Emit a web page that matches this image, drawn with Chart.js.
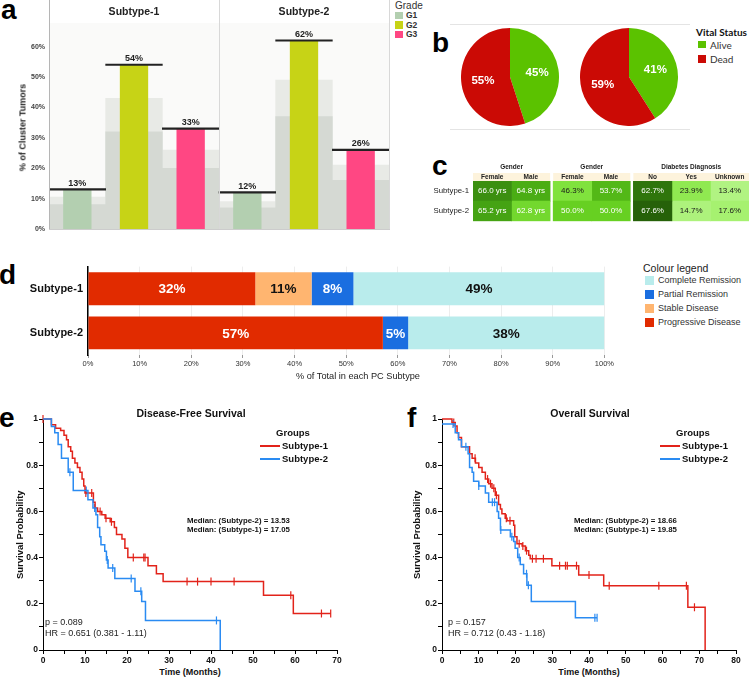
<!DOCTYPE html>
<html>
<head>
<meta charset="utf-8">
<script src="https://cdn.jsdelivr.net/npm/chart.js@4.4.1/dist/chart.umd.min.js"></script>
<style>
body { margin: 0; background: #fff; font-family: "Liberation Sans", Arial, sans-serif; }
#fig { position: relative; width: 749px; height: 679px; overflow: hidden; background: #fff; }
canvas { position: absolute; }
.t { position: absolute; white-space: nowrap; color: #222; }
.sw { position: absolute; }
</style>
</head>
<body>
<div id="fig"></div>
<script>
// ---- panel a: tumour grade per subtype ----
const subtypes = ['Subtype-1', 'Subtype-2'];
const gradeLabels = ['G1', 'G2', 'G3'];
const gradePct = [[13, 54, 33], [12, 62, 26]];
const greyLow = [[8, 32, 20], [7, 37, 16]];
const greyHigh = [[10.5, 43, 26], [9, 49, 21]];

// ---- panel b: vital status ----
const vitalLabels = ['Alive', 'Dead'];
const vitalPct = [[45, 55], [41, 59]];

// ---- panel c: table ----
const cGroups = ['Gender', 'Gender', 'Diabetes Diagnosis'];
const cCols = [['Female', 'Male'], ['Female', 'Male'], ['No', 'Yes', 'Unknown']];
const cUnits = [' yrs', '%', '%'];
const cSub1 = [[66.0, 64.8], [46.3, 53.7], [62.7, 23.9, 13.4]];
const cSub2 = [[65.2, 62.8], [50.0, 50.0], [67.6, 14.7, 17.6]];

// ---- panel d: response ----
const responseLabels = ['Progressive Disease', 'Stable Disease', 'Partial Remission', 'Complete Remission'];
const responseSub1 = [32.4, 10.9, 8.1, 48.6];
const responseSub2 = [57.1, 0, 4.9, 38.0];

// ---- panel e: disease-free survival (months, probability) ----
const dfsSub1 = [[0,1],[2.0,0.975],[3.0,0.96],[4.2,0.95],[5.0,0.93],[5.6,0.91],[6.0,0.88],[6.6,0.86],[7.0,0.83],[7.6,0.81],[8.2,0.79],[8.8,0.77],[9.3,0.74],[9.7,0.71],[10.0,0.68],[12.0,0.64],[12.4,0.615],[13.0,0.60],[14.0,0.585],[14.8,0.57],[16.0,0.555],[17.0,0.53],[17.5,0.50],[18.8,0.48],[19.5,0.44],[20.2,0.40],[25.0,0.365],[27.0,0.33],[28.6,0.296],[52.5,0.237],[59.6,0.158],[68.5,0.158]];
const dfsCens1 = [0, 10.2, 11.6, 13.6, 15.0, 16.3, 21.5, 24.0, 24.3, 34.3, 36.8, 40.0, 45.5, 59.0, 66.3, 68.5];
const dfsSub2 = [[0,1],[2.0,0.968],[2.8,0.94],[3.6,0.89],[4.4,0.83],[6.0,0.77],[7.2,0.69],[10.7,0.65],[11.9,0.615],[12.6,0.585],[13.0,0.53],[13.5,0.49],[13.8,0.456],[14.7,0.427],[15.1,0.39],[15.5,0.355],[17.1,0.309],[21.9,0.254],[23.5,0.21],[24.4,0.128],[42.2,0]];
const dfsCens2 = [6.4, 10.3, 12.3, 15.3, 16.6, 21.0, 23.3, 41.3];

// ---- panel f: overall survival ----
const osSub1 = [[0,1],[2.7,0.985],[3.6,0.97],[4.1,0.94],[4.5,0.92],[5.3,0.88],[7.5,0.85],[8.2,0.83],[9.1,0.81],[10.0,0.79],[10.9,0.77],[11.8,0.74],[12.7,0.72],[13.6,0.70],[14.5,0.67],[15.4,0.63],[15.9,0.61],[16.3,0.59],[17.2,0.57],[17.7,0.56],[19.5,0.54],[19.8,0.49],[20.4,0.46],[21.8,0.45],[22.7,0.43],[23.6,0.41],[24.0,0.395],[29.9,0.365],[37.2,0.325],[44.0,0.278],[66.9,0.185],[71.6,0]];
const osCens1 = [3.2, 9.0, 12.4, 13.2, 14.1, 14.8, 17.5, 18.5, 21.0, 22.0, 23.0, 24.6, 25.6, 27.6, 32.0, 33.6, 34.1, 36.6, 40.0, 45.5, 59.0, 66.5, 68.7];
const osSub2 = [[0,0.978],[3.6,0.94],[4.5,0.91],[5.3,0.88],[7.1,0.85],[7.5,0.79],[8.2,0.77],[8.6,0.73],[10.0,0.71],[11.8,0.68],[12.7,0.64],[15.0,0.60],[15.4,0.57],[15.9,0.52],[18.6,0.49],[19.5,0.47],[19.9,0.44],[20.6,0.40],[21.3,0.37],[22.2,0.33],[23.1,0.28],[24.3,0.21],[36.3,0.14],[42.2,0.14]];
const osCens2 = [3.0, 6.5, 10.0, 13.7, 14.3, 16.0, 19.0, 21.0, 23.0, 23.5, 41.6, 42.2];

const FONT = '"Liberation Sans", Arial, sans-serif';
Chart.defaults.font.family = FONT;
Chart.defaults.animation = false;
Chart.defaults.events = [];
Chart.defaults.plugins.legend.display = false;
Chart.defaults.plugins.tooltip.enabled = false;

const fig = document.getElementById('fig');

function txt(s, x, cy, size, o = {}) {
    const d = document.createElement('div');
    d.className = 't';
    d.textContent = s;
    d.style.fontSize = size + 'px';
    d.style.lineHeight = size + 'px';
    d.style.left = x + 'px';
    d.style.top = (cy - size / 2) + 'px';
    if (o.bold) d.style.fontWeight = 'bold';
    if (o.color) d.style.color = o.color;
    if (o.family) d.style.fontFamily = o.family;
    let tf = '';
    if (o.align === 'center') tf += 'translateX(-50%) ';
    if (o.align === 'right') tf += 'translateX(-100%) ';
    if (o.rotate) tf += 'rotate(' + o.rotate + 'deg)';
    d.style.transform = tf;
    fig.appendChild(d);
}

function box(x, y, w, h, color) {
    const d = document.createElement('div');
    d.className = 'sw';
    d.style.left = x + 'px'; d.style.top = y + 'px';
    d.style.width = w + 'px'; d.style.height = h + 'px';
    d.style.background = color;
    fig.appendChild(d);
}

function makeCanvas(left, top, w, h) {
    const c = document.createElement('canvas');
    c.width = w; c.height = h;
    c.style.left = left + 'px'; c.style.top = top + 'px';
    c.style.width = w + 'px'; c.style.height = h + 'px';
    fig.appendChild(c);
    return c.getContext('2d');
}

// panel letters
function letter(s, x, baseline) { txt(s, x, baseline - 23.7 + 14, 28, { bold: true, color: '#000' }); }
letter('a', 1, 20);
letter('b', 432, 53);
letter('c', 432, 176);
letter('d', -1, 285);
letter('e', -1, 428);
letter('f', 407, 428);

// ================= panel a =================
const gradeColors = ['#b3cfb0', '#c7d316', '#ff4783'];
const flatGrade = gradePct.flat();
const flatLow = greyLow.flat();
const flatHigh = greyHigh.flat();

const facetPlugin = {
    id: 'facets',
    beforeDraw(chart) {
        const { ctx, chartArea: a } = chart;
        ctx.save();
        ctx.fillStyle = '#fafaf9';
        ctx.fillRect(a.left, a.top, a.right - a.left, a.bottom - a.top);
        ctx.restore();
    },
    afterDatasetsDraw(chart) {
        const { ctx, chartArea: a, scales: { x, y } } = chart;
        const edges = [a.left, (x.getPixelForValue(2) + x.getPixelForValue(3)) / 2, a.right];
        ctx.save();
        ctx.lineWidth = 1;
        edges.forEach((e, i) => {
            ctx.strokeStyle = i === 0 ? '#b5b5b5' : '#d8d8d8';
            ctx.beginPath();
            ctx.moveTo(Math.round(e) + 0.5, 0);
            ctx.lineTo(Math.round(e) + 0.5, a.bottom);
            ctx.stroke();
        });
        ctx.fillStyle = '#222';
        ctx.textAlign = 'center';
        ctx.textBaseline = 'middle';
        ctx.font = 'bold 10.5px ' + FONT;
        subtypes.forEach((s, i) => ctx.fillText(s, (edges[i] + edges[i + 1]) / 2, 12));
        ctx.font = 'bold 9px ' + FONT;
        chart.getDatasetMeta(2).data.forEach((bar, i) => {
            ctx.fillText(flatGrade[i] + '%', bar.x, y.getPixelForValue(flatGrade[i]) - 6);
        });
        ctx.restore();
    }
};

new Chart(makeCanvas(0, 0, 392, 240), {
    type: 'bar',
    data: {
        labels: subtypes.flatMap(s => gradeLabels.map(g => s + ' ' + g)),
        datasets: [
            { data: flatHigh, backgroundColor: '#e8eae6', grouped: false, barPercentage: 1, categoryPercentage: 1, order: 4 },
            { data: flatLow, backgroundColor: '#d5d9d3', grouped: false, barPercentage: 1, categoryPercentage: 1, order: 3 },
            { data: flatGrade, backgroundColor: flatGrade.map((v, i) => gradeColors[i % 3]), grouped: false, barPercentage: 0.5, categoryPercentage: 1, order: 2 },
            { data: flatGrade.map(v => [v - 0.2, v + 0.3]), backgroundColor: '#222', grouped: false, barPercentage: 1, categoryPercentage: 1, order: 1 }
        ]
    },
    options: {
        responsive: false,
        devicePixelRatio: 1,
        layout: { padding: { top: 23, right: 3, left: 0, bottom: 0 } },
        scales: {
            x: {
                ticks: { display: false },
                grid: { display: false, drawTicks: false },
                border: { color: '#cccccc' },
                afterFit: s => { s.height = 11; }
            },
            y: {
                min: 0, max: 67.8,
                ticks: {
                    stepSize: 10,
                    callback: v => (v % 10 === 0 ? v + '%' : ''),
                    font: { size: 7, weight: 'bold' },
                    color: '#444',
                    padding: 4
                },
                grid: { display: false, drawTicks: false },
                border: { display: false },
                afterFit: s => { s.width = 49; }
            }
        }
    },
    plugins: [facetPlugin]
});

txt('% of Cluster Tumors', 23, 127, 9, { bold: true, align: 'center', rotate: -90 });
txt('Grade', 395, 6, 10, { color: '#333' });
gradeLabels.forEach((g, i) => {
    const cy = [15.5, 25, 34.5][i];
    box(395, cy - 3.7, 7.5, 7.5, gradeColors[i]);
    txt(g, 406, cy, 8.5, { bold: true, color: '#333' });
});

// ================= panel b =================
const vitalColors = ['#5bc200', '#cb0a05'];
const pieLabels = {
    id: 'pieLabels',
    afterDatasetsDraw(chart) {
        const { ctx } = chart;
        const vals = chart.data.datasets[0].data;
        ctx.save();
        ctx.fillStyle = '#fff';
        ctx.font = 'bold 11.5px ' + FONT;
        ctx.textAlign = 'center';
        ctx.textBaseline = 'middle';
        chart.getDatasetMeta(0).data.forEach((arc, i) => {
            const p = arc.getProps(['x', 'y', 'startAngle', 'endAngle', 'outerRadius']);
            const m = (p.startAngle + p.endAngle) / 2;
            const r = p.outerRadius * 0.56;
            ctx.fillText(vals[i] + '%', p.x + Math.cos(m) * r, p.y + Math.sin(m) * r);
        });
        ctx.restore();
    }
};
[[461, 28], [580, 28]].forEach((pos, k) => {
    new Chart(makeCanvas(pos[0], pos[1], 98, 98), {
        type: 'pie',
        data: { labels: vitalLabels, datasets: [{ data: vitalPct[k], backgroundColor: vitalColors, borderWidth: 0 }] },
        options: { responsive: false, devicePixelRatio: 1, layout: { padding: 0 } },
        plugins: [pieLabels]
    });
});
box(450, 24, 240, 1, '#e4e4e4');
box(450, 129, 240, 1, '#e4e4e4');
txt('Vital Status', 696, 32, 10, { bold: true, family: 'Lato, ' + FONT, color: '#111' });
vitalLabels.forEach((l, i) => {
    const cy = [44.5, 59][i];
    box(698, cy - 3.8, 7.5, 7.5, vitalColors[i]);
    txt(l, 710, cy, 10, { family: 'Lato, ' + FONT, color: '#333' });
});

// ================= panel c =================
const greenStops = [[0, '#c4f7a0'], [0.2, '#a2f06a'], [0.35, '#80e23c'], [0.5, '#62cc1c'], [0.65, '#4bae14'], [0.8, '#3b8e10'], [1, '#245c08']];
const cDomains = [[59.3, 67.7], [36, 65.6], [6.4, 68.9]];
function hexRgb(c) { return [1, 3, 5].map(i => parseInt(c.slice(i, i + 2), 16)); }
function shade(g, v) {
    const d = cDomains[g];
    return Math.max(0, Math.min(1, (v - d[0]) / (d[1] - d[0])));
}
function greenAt(t) {
    for (let i = 1; i < greenStops.length; i++) {
        const [t1, c1] = greenStops[i];
        if (t <= t1) {
            const [t0, c0] = greenStops[i - 1];
            const f = (t - t0) / (t1 - t0);
            const a = hexRgb(c0), b = hexRgb(c1);
            return 'rgb(' + a.map((v, k) => Math.round(v + (b[k] - v) * f)).join(',') + ')';
        }
    }
    return greenStops[greenStops.length - 1][1];
}
const cRows = [cSub1, cSub2];
const cells = [];
let cPos = 0;
cCols.forEach((cols, g) => {
    cols.forEach((c, j) => { cells.push({ g, j, x0: cPos, x1: cPos + 1 }); cPos += 1; });
    cPos += 0.08;
});
const cMax = cPos - 0.08;

const tablePlugin = {
    id: 'table',
    afterDatasetsDraw(chart) {
        const { ctx, chartArea: a, scales: { x } } = chart;
        ctx.save();
        ctx.textAlign = 'center';
        ctx.textBaseline = 'middle';
        let k = 0;
        cCols.forEach((cols, g) => {
            const x0 = x.getPixelForValue(cells[k].x0);
            const x1 = x.getPixelForValue(cells[k + cols.length - 1].x1);
            ctx.fillStyle = '#fdf3dc';
            ctx.fillRect(x0, a.top - 8, x1 - x0, 8);
            ctx.fillStyle = '#222';
            ctx.font = 'bold 6.5px ' + FONT;
            ctx.fillText(cGroups[g], (x0 + x1) / 2, a.top - 14);
            cols.forEach((c, j) => {
                const cell = cells[k + j];
                ctx.fillText(c, (x.getPixelForValue(cell.x0) + x.getPixelForValue(cell.x1)) / 2, a.top - 4);
            });
            k += cols.length;
        });
        ctx.font = '8px ' + FONT;
        cells.forEach((cell, i) => {
            chart.getDatasetMeta(i).data.forEach((el, r) => {
                const v = cRows[r][cell.g][cell.j];
                ctx.fillStyle = shade(cell.g, v) > 0.4 ? '#fff' : '#1a1a1a';
                ctx.fillText(v.toFixed(1) + cUnits[cell.g], (el.x + el.base) / 2, el.y);
            });
        });
        ctx.restore();
    }
};

new Chart(makeCanvas(430, 160, 319, 70), {
    type: 'bar',
    data: {
        labels: subtypes,
        datasets: cells.map(cell => ({
            data: cRows.map(() => [cell.x0, cell.x1]),
            backgroundColor: cRows.map(r => greenAt(shade(cell.g, r[cell.g][cell.j]))),
            grouped: false, barPercentage: 1, categoryPercentage: 1, borderWidth: 0
        }))
    },
    options: {
        indexAxis: 'y',
        responsive: false,
        devicePixelRatio: 1,
        layout: { padding: { top: 21, right: 0, bottom: 1, left: 0 } },
        scales: {
            x: { type: 'linear', min: 0, max: cMax, display: false },
            y: {
                ticks: { font: { size: 7.8 }, color: '#222', padding: 4 },
                grid: { display: false, drawTicks: false },
                border: { display: false },
                afterFit: s => { s.width = 43; }
            }
        }
    },
    plugins: [tablePlugin]
});

// ================= panel d =================
const responseColors = ['#e12b00', '#ffb570', '#1a6ee0', '#b9ecec'];
const responseText = ['#fff', '#111', '#fff', '#111'];
const responseRows = [responseSub1, responseSub2];
const segLabels = {
    id: 'segLabels',
    afterDatasetsDraw(chart) {
        const { ctx } = chart;
        ctx.save();
        ctx.font = 'bold 13.5px ' + FONT;
        ctx.textAlign = 'center';
        ctx.textBaseline = 'middle';
        responseLabels.forEach((l, k) => {
            chart.getDatasetMeta(k).data.forEach((el, r) => {
                const v = responseRows[r][k];
                if (v < 1) return;
                ctx.fillStyle = responseText[k];
                ctx.fillText(Math.round(v) + '%', (el.x + el.base) / 2, el.y + 1);
            });
        });
        ctx.restore();
    }
};
new Chart(makeCanvas(0, 255, 615, 118), {
    type: 'bar',
    data: {
        labels: subtypes,
        datasets: responseLabels.map((l, k) => ({
            label: l,
            data: responseRows.map(r => r[k]),
            backgroundColor: responseColors[k],
            barPercentage: 0.745, categoryPercentage: 1, borderWidth: 0
        }))
    },
    options: {
        indexAxis: 'y',
        responsive: false,
        devicePixelRatio: 1,
        layout: { padding: { top: 6, right: 6, left: 0, bottom: 0 } },
        scales: {
            x: {
                stacked: true, min: 0, max: 100,
                ticks: { stepSize: 10, callback: v => v + '%', font: { size: 7.5 }, color: '#333', padding: 1 },
                grid: { color: '#ededed', tickLength: 3, tickColor: '#999' },
                border: { display: false },
                afterFit: s => { s.height = 18; }
            },
            y: {
                stacked: true,
                ticks: { font: { size: 11, weight: 'bold' }, color: '#111', padding: 5 },
                grid: { display: false, drawTicks: false },
                border: { color: '#000', width: 1.5 },
                afterFit: s => { s.width = 88; }
            }
        }
    },
    plugins: [segLabels]
});
txt('% of Total in each PC Subtype', 358, 377, 9.2, { align: 'center', color: '#222' });
txt('Colour legend', 643, 268, 10.5, { color: '#222' });
[3, 2, 1, 0].forEach((k, i) => {
    const cy = [280.3, 294.7, 308.3, 322.3][i];
    box(645, cy - 4.5, 9, 9, responseColors[k]);
    txt(responseLabels[k], 658, cy, 9, { color: '#333' });
});

// ================= panels e, f =================
const kmRed = '#e2231a';
const kmBlue = '#2a8bf2';
function survAt(curve, t) {
    let s = curve[0][1];
    curve.forEach(p => { if (p[0] <= t) s = p[1]; });
    return s;
}
function kmChart(ctx, xMax, c1, cens1, c2, cens2, rightPad, axisW) {
    const line = (curve, color) => ({
        type: 'line',
        data: curve.map(p => ({ x: p[0], y: p[1] })),
        borderColor: color, borderWidth: 1.5, stepped: 'before',
        pointRadius: 0, fill: false, clip: false
    });
    const ticks = (curve, times, color) => ({
        type: 'scatter',
        data: times.map(t => ({ x: t, y: survAt(curve, t) })),
        borderColor: color, backgroundColor: color, borderWidth: 1.2,
        pointStyle: 'line', rotation: 90, pointRadius: 4, clip: false
    });
    return new Chart(ctx, {
        type: 'line',
        data: { datasets: [line(c2, kmBlue), line(c1, kmRed), ticks(c2, cens2, kmBlue), ticks(c1, cens1, kmRed)] },
        options: {
            responsive: false,
            devicePixelRatio: 1,
            layout: { padding: { top: 14, right: rightPad, left: 0, bottom: 0 } },
            scales: {
                x: {
                    type: 'linear', min: 0, max: xMax,
                    ticks: { stepSize: 5, autoSkip: false, maxRotation: 0, callback: v => (v % 10 === 0 ? v : ''), font: { size: 8.5, weight: 'bold' }, color: '#111', padding: 2 },
                    grid: { drawOnChartArea: false, tickLength: 4, color: '#000' },
                    border: { color: '#000', width: 1 },
                    afterFit: s => { s.height = 17; }
                },
                y: {
                    min: 0, max: 1,
                    ticks: {
                        stepSize: 0.1, autoSkip: false,
                        callback: v => {
                            const k = Math.round(v * 10);
                            if (k % 2) return '';
                            return k === 10 ? '1' : k === 0 ? '0' : (k / 10).toFixed(1);
                        },
                        font: { size: 8.5, weight: 'bold' }, color: '#111', padding: 1
                    },
                    grid: { drawOnChartArea: false, tickLength: 4, color: '#000' },
                    border: { color: '#000', width: 1 },
                    afterFit: s => { s.width = axisW; }
                }
            }
        }
    });
}
kmChart(makeCanvas(0, 405, 375, 262), 70, dfsSub1, dfsCens1, dfsSub2, dfsCens2, 38, 43);
kmChart(makeCanvas(375, 405, 374, 262), 80, osSub1, osCens1, osSub2, osCens2, 13, 67);

function kmText(cx, title, med2, med1, p, hr, legX, medX, pX, ytX, xtX) {
    txt(title, cx, 413, 10.5, { bold: true, align: 'center', color: '#111' });
    txt('Survival Probability', ytX, 535, 9.5, { bold: true, align: 'center', rotate: -90, color: '#111' });
    txt('Time (Months)', xtX, 672, 9, { bold: true, align: 'center', color: '#111' });
    txt('Groups', legX + 33, 433, 9.5, { bold: true, align: 'center', color: '#111' });
    box(legX, 445.3, 20, 1.5, kmRed);
    box(legX, 458.3, 20, 1.5, kmBlue);
    txt('Subtype-1', legX + 22, 446, 9.5, { bold: true, color: '#111' });
    txt('Subtype-2', legX + 22, 459, 9.5, { bold: true, color: '#111' });
    txt('Median: (Subtype-2) = ' + med2, medX, 521, 7.8, { bold: true, color: '#111' });
    txt('Median: (Subtype-1) = ' + med1, medX, 530, 7.8, { bold: true, color: '#111' });
    txt('p = ' + p, pX, 622, 9, { color: '#222' });
    txt('HR = ' + hr, pX, 633, 9, { color: '#222' });
}
kmText(191, 'Disease-Free Survival', '13.53', '17.05', '0.089', '0.651 (0.381 - 1.11)', 260, 187, 45, 20, 190);
kmText(590, 'Overall Survival', '18.66', '19.85', '0.157', '0.712 (0.43 - 1.18)', 660, 574, 448, 417, 589);
</script>
</body>
</html>
